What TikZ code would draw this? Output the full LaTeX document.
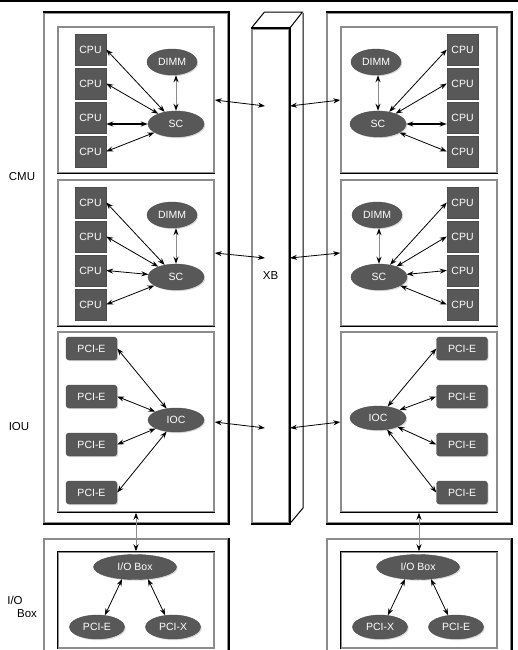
\documentclass[tikz,border=0pt]{standalone}
\usepackage{fontspec}
\setmainfont{Liberation Sans}
\usetikzlibrary{arrows.meta,shapes.geometric,shadows}
\definecolor{framegray}{RGB}{140,140,140}
\definecolor{partgray}{RGB}{88,88,88}
\tikzset{
  unitpart/.style={draw=black!70,fill=partgray,text=white,inner sep=0pt,
    font=\fontsize{10.5}{12}\selectfont,
    drop shadow={shadow xshift=1.2pt,shadow yshift=-1.2pt,fill=black!30}},
  cpu/.style={unitpart,minimum width=31pt,minimum height=31pt},
  pcie/.style={unitpart,rounded corners=3pt,minimum width=51pt,minimum height=23pt},
  chip/.style={unitpart,ellipse,minimum width=50pt,minimum height=26pt},
  unitframe/.style={draw=framegray,line width=1.5pt,inner sep=0pt},
  hardline/.style={line width=1.5pt},
  link/.style={{Stealth[length=7pt,width=5pt]}-{Stealth[length=7pt,width=5pt]},line width=0.8pt},
  graylink/.style={{Stealth[length=7pt,width=5pt,color=black]}-{Stealth[length=7pt,width=5pt,color=black]},draw=black!45,line width=1pt},
  sidetext/.style={font=\fontsize{11.5}{13}\selectfont}
}
\begin{document}
\begin{tikzpicture}[x=1pt,y=-1pt]
\useasboundingbox (0,0) rectangle (518,650);
\draw[hardline] (0,1) -- (518,1);

\node[unitframe,minimum width=184pt,minimum height=510pt] (sideL) at (136,268) {};
\node[unitframe,minimum width=184pt,minimum height=510pt] (sideR) at (419,268) {};
\draw[hardline] (sideL.north west) -- (sideL.north east) -- (sideL.south east) -- (sideL.south west);
\draw[hardline] (sideR.north west) -- (sideR.north east) -- (sideR.south east) -- (sideR.south west);

\node[unitframe,minimum width=156pt,minimum height=146pt] (cmuLa) at (136,100) {};
\node[unitframe,minimum width=156pt,minimum height=146pt] (cmuLb) at (136,253) {};
\node[unitframe,minimum width=156pt,minimum height=180pt] (iouL) at (136,422) {};
\node[unitframe,minimum width=156pt,minimum height=146pt] (cmuRa) at (419,100) {};
\node[unitframe,minimum width=156pt,minimum height=146pt] (cmuRb) at (419,253) {};
\node[unitframe,minimum width=156pt,minimum height=180pt] (iouR) at (419,422) {};
\foreach \b in {cmuLa,cmuLb,iouL,cmuRa,cmuRb,iouR}
  \draw[line width=1pt] (\b.south west) -- (\b.south east);

\node[unitframe,minimum width=184pt,minimum height=131pt] (ioOutL) at (136,604.5) {};
\node[unitframe,minimum width=156pt,minimum height=96pt] (ioInL) at (136,600) {};
\node[unitframe,minimum width=184pt,minimum height=131pt] (ioOutR) at (419,604.5) {};
\node[unitframe,minimum width=156pt,minimum height=96pt] (ioInR) at (419,600) {};
\draw[hardline] (ioOutL.north east) -- (ioOutL.south east);
\draw[hardline] (ioOutR.north east) -- (ioOutR.south east);
\draw[line width=1pt] (ioInL.south west) -- (ioInL.north west) -- (ioInL.north east);
\draw[line width=1pt] (ioInR.south west) -- (ioInR.north west) -- (ioInR.north east);

\node[unitframe,minimum width=37pt,minimum height=494pt,sidetext] (xb) at (270.5,276) {XB};
\draw[hardline] (xb.north west) -- (xb.north east) -- (xb.south east) -- (xb.south west);
\draw[line width=1pt] (xb.north west) -- ++(13,-16) -- ++(38,0) -- (xb.north east);
\draw[line width=1pt] (303,13) -- (303,508) -- (xb.south east);

\node[sidetext] (cmuText) at (22,177) {CMU};
\node[sidetext] (iouText) at (19,427) {IOU};
\node[sidetext] (ioText) at (15,600) {I/O};
\node[sidetext] (boxText) at (27,614) {Box};

\foreach \i in {1,...,4} {
  \node[cpu] (cpuLa\i) at (90.5,{15.5+34*\i}) {CPU};
  \node[cpu] (cpuLb\i) at (90.5,{168.5+34*\i}) {CPU};
  \node[cpu] (cpuRa\i) at (462.5,{15.5+34*\i}) {CPU};
  \node[cpu] (cpuRb\i) at (462.5,{168.5+34*\i}) {CPU};
  \node[pcie] (pciL\i) at (91.5,{300.5+48*\i}) {PCI-E};
  \node[pcie] (pciR\i) at (462,{300.5+48*\i}) {PCI-E};
}
\node[chip] (dimmLa) at (172,62) {DIMM};
\node[chip,minimum width=56pt] (scLa) at (176,124) {SC};
\node[chip] (dimmLb) at (172,215) {DIMM};
\node[chip,minimum width=56pt] (scLb) at (176,277) {SC};
\node[chip] (dimmRa) at (376,62) {DIMM};
\node[chip,minimum width=56pt] (scRa) at (378,124) {SC};
\node[chip] (dimmRb) at (377,215) {DIMM};
\node[chip,minimum width=56pt] (scRb) at (379,277) {SC};
\node[chip,minimum width=56pt,minimum height=24pt] (iocL) at (176,420) {IOC};
\node[chip,minimum width=56pt,minimum height=24pt] (iocR) at (378,418) {IOC};

\node[chip,minimum width=83pt,minimum height=25pt] (iobL) at (135,567) {I/O Box};
\node[chip,minimum width=55pt,minimum height=24pt] (pcieL) at (97,627) {PCI-E};
\node[chip,minimum width=55pt,minimum height=24pt] (pcixL) at (173,627) {PCI-X};
\node[chip,minimum width=83pt,minimum height=25pt] (iobR) at (418,567) {I/O Box};
\node[chip,minimum width=55pt,minimum height=24pt] (pcixR) at (380,627) {PCI-X};
\node[chip,minimum width=55pt,minimum height=24pt] (pcieR) at (456,627) {PCI-E};

\foreach \i in {1,2,4} {
  \draw[link] (cpuLa\i.east) -- (scLa);
  \draw[link] (cpuRa\i.west) -- (scRa);
}
\foreach \i in {1,...,4} {
  \draw[link] (cpuLb\i.east) -- (scLb);
  \draw[link] (cpuRb\i.west) -- (scRb);
  \draw[link] (pciL\i.east) -- (iocL);
  \draw[link] (pciR\i.west) -- (iocR);
}
\draw[link,line width=1.6pt] (cpuLa3.east |- scLa) -- (scLa);
\draw[link,line width=1.6pt] (cpuRa3.west |- scRa) -- (scRa);
\draw[graylink] (scLa |- dimmLa.south) -- (scLa.north);
\draw[graylink] (scLb |- dimmLb.south) -- (scLb.north);
\draw[graylink] (scRa |- dimmRa.south) -- (scRa.north);
\draw[graylink] (scRb |- dimmRb.south) -- (scRb.north);

\coordinate (xbLa) at (265,106);
\coordinate (xbLb) at (265,258);
\coordinate (xbLc) at (265,428);
\coordinate (xbRa) at (290,106);
\coordinate (xbRb) at (290,258);
\coordinate (xbRc) at (290,428);
\draw[link] (cmuLa.east) -- (xbLa);
\draw[link] (cmuLb.east) -- (xbLb);
\draw[link] (iouL.east) -- (xbLc);
\draw[link] (xbRa) -- (cmuRa.west);
\draw[link] (xbRb) -- (cmuRb.west);
\draw[link] (xbRc) -- (iouR.west);

\draw[graylink] (iouL.south) -- (ioInL.north);
\draw[graylink] (iouR.south) -- (ioInR.north);
\draw[link] (iobL.223) -- (pcieL.56);
\draw[link] (iobL.317) -- (pcixL.124);
\draw[link] (iobR.223) -- (pcixR.56);
\draw[link] (iobR.317) -- (pcieR.124);
\end{tikzpicture}
\end{document}
